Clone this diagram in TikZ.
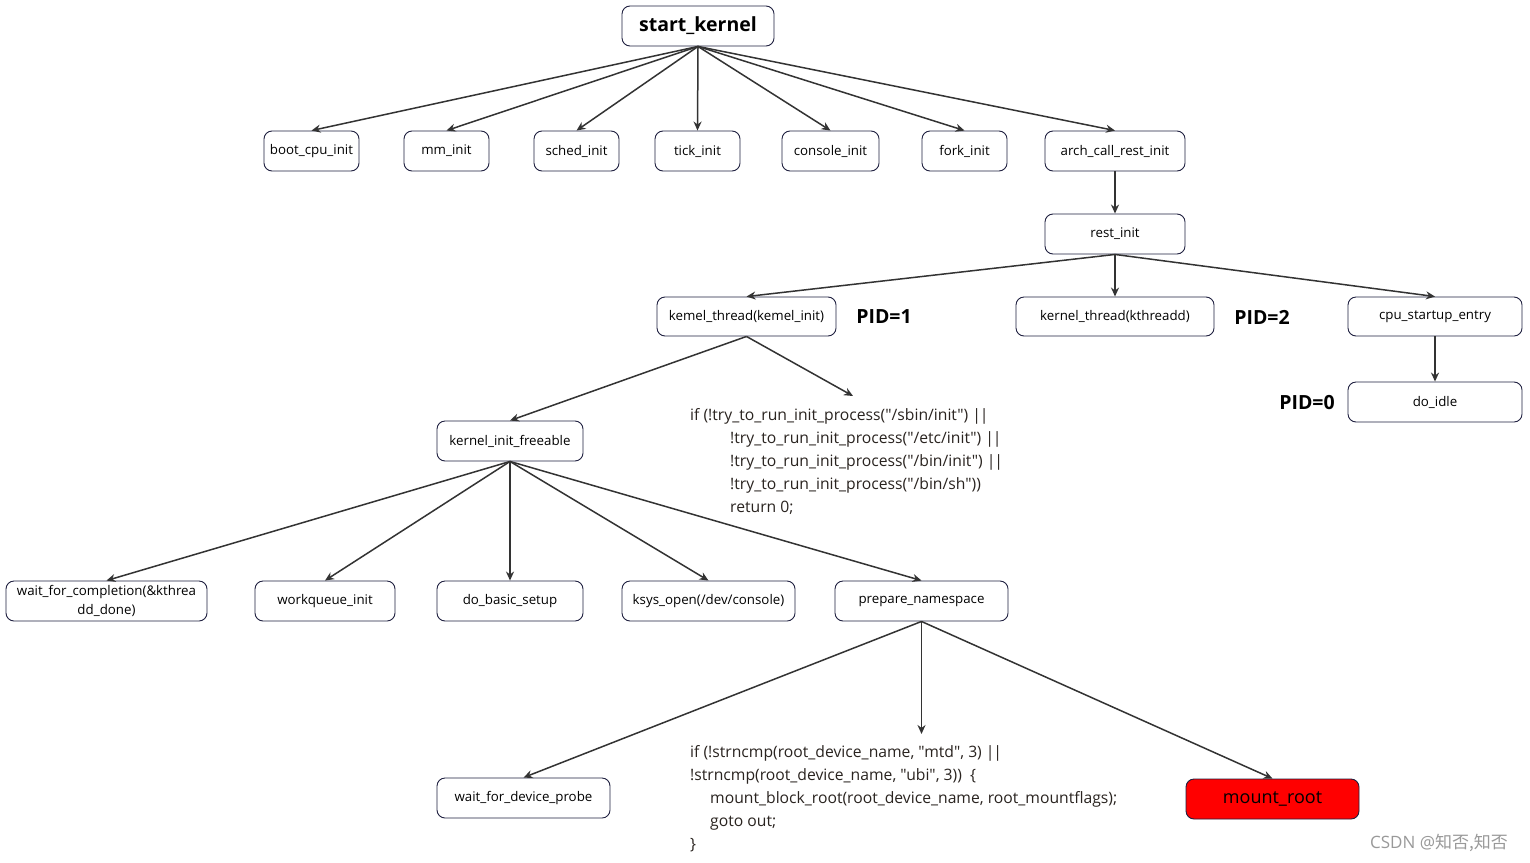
\documentclass[tikz,border=0pt]{standalone}
\usepackage{fontspec}
\setmainfont{Open Sans}[Ligatures=TeXOff]
\newfontfamily\cjkfont{Noto Sans CJK SC}
\usetikzlibrary{arrows.meta}
\definecolor{edgecol}{HTML}{333333}
\definecolor{boxline}{HTML}{1F2040}
\definecolor{codecol}{HTML}{2A2420}
\newcommand{\oror}{|\kern-1.2pt|}
\tikzset{
  fn/.style={draw=boxline, line width=0.9pt, rounded corners=8pt, fill=white,
    inner sep=0pt, align=center, text=black, font=\fontsize{13.3}{15}\selectfont},
  arr/.style={draw=edgecol, line width=1.5pt, -{Stealth[length=9pt,width=8pt]}},
  pid/.style={font=\fontsize{19.5}{22}\selectfont\bfseries, inner sep=0pt},
  codetext/.style={font=\fontsize{15.7}{23}\selectfont, text=codecol, align=left, inner sep=0pt}
}
\begin{document}
\begin{tikzpicture}[x=1pt,y=-1pt]
\useasboundingbox (0,0) rectangle (1530,862);
\fill[white] (0,0) rectangle (1530,862);

% top level
\node[fn, minimum width=152pt, minimum height=40pt, font=\fontsize{19.5}{22}\selectfont\bfseries] (sk) at (698,26) {start\_kernel};
\node[fn, minimum width=95pt, minimum height=40pt] (boot) at (311.5,151) {boot\_cpu\_init};
\node[fn, minimum width=85pt, minimum height=40pt] (mm) at (446.5,151) {mm\_init};
\node[fn, minimum width=85pt, minimum height=40pt] (sched) at (576.5,151) {sched\_init};
\node[fn, minimum width=85pt, minimum height=40pt] (tick) at (697.5,151) {tick\_init};
\node[fn, minimum width=97pt, minimum height=40pt] (console) at (830.5,151) {console\_init};
\node[fn, minimum width=85pt, minimum height=40pt] (fork) at (964.5,151) {fork\_init};
\node[fn, minimum width=140pt, minimum height=40pt] (arch) at (1115,151) {arch\_call\_rest\_init};
\node[fn, minimum width=140pt, minimum height=40pt] (rest) at (1115,234) {rest\_init};

\node[fn, minimum width=179pt, minimum height=39pt] (kinit) at (746.5,316.5) {kemel\_thread(kemel\_init)};
\node[pid] (pid1) at (884,317) {PID=1};
\node[fn, minimum width=198pt, minimum height=39pt] (kthd) at (1115,316.5) {kernel\_thread(kthreadd)};
\node[pid] (pid2) at (1262,317) {PID=2};
\node[fn, minimum width=174pt, minimum height=39pt] (cpu) at (1435,316.5) {cpu\_startup\_entry};
\node[fn, minimum width=174pt, minimum height=40pt] (idle) at (1435,402) {do\_idle};
\node[pid] (pid0) at (1307,403) {PID=0};

\coordinate (c1) at (853,396);
\node[codetext, anchor=north west] (code1) at (690,408) {if (!try\_to\_run\_init\_process("/sbin/init") \oror\\
\hspace*{40pt}!try\_to\_run\_init\_process("/etc/init") \oror\\
\hspace*{40pt}!try\_to\_run\_init\_process("/bin/init") \oror\\
\hspace*{40pt}!try\_to\_run\_init\_process("/bin/sh"))\\
\hspace*{40pt}return 0;};

\node[fn, minimum width=146pt, minimum height=40pt] (kif) at (510,441) {kernel\_init\_freeable};
\node[fn, minimum width=201pt, minimum height=40pt, font=\fontsize{13.3}{19}\selectfont] (wait) at (106.5,601) {wait\_for\_completion(\&kthrea\\dd\_done)};
\node[fn, minimum width=140pt, minimum height=40pt] (wq) at (325,601) {workqueue\_init};
\node[fn, minimum width=146pt, minimum height=40pt] (dbs) at (510,601) {do\_basic\_setup};
\node[fn, minimum width=173pt, minimum height=40pt] (ksys) at (708.5,601) {ksys\_open(/dev/console)};
\node[fn, minimum width=173pt, minimum height=40pt] (prep) at (921.5,601) {prepare\_namespace};

\node[fn, minimum width=173pt, minimum height=40pt] (wdp) at (523.5,798) {wait\_for\_device\_probe};
\node[fn, minimum width=173pt, minimum height=40pt, fill=red, font=\fontsize{18}{20}\selectfont] (mroot) at (1272.5,799) {mount\_root};
\coordinate (c2) at (921.5,734);
\node[codetext, anchor=north west] (code2) at (690,745) {if (!strncmp(root\_device\_name, "mtd", 3) \oror\\
!strncmp(root\_device\_name, "ubi", 3))~~\{\\
\hspace*{20pt}mount\_block\_root(root\_device\_name, root\_mountflags);\\
\hspace*{20pt}goto out;\\
\}};

\node[font=\fontsize{17}{20}\selectfont, text=black!40, inner sep=0pt] (wm) at (1439,843) {CSDN @\cjkfont 知否,知否};

% edges
\foreach \t in {boot,mm,sched,tick,console,fork,arch}
  \draw[arr] (sk.south) -- (\t.north);
\draw[arr] (arch.south) -- (rest.north);
\foreach \t in {kinit,kthd,cpu}
  \draw[arr] (rest.south) -- (\t.north);
\draw[arr] (cpu.south) -- (idle.north);
\draw[arr] (kinit.south) -- (c1);
\draw[arr] (kinit.south) -- (kif.north);
\foreach \t in {wait,wq,dbs,ksys,prep}
  \draw[arr] (kif.south) -- (\t.north);
\draw[arr] (prep.south) -- (wdp.north);
\draw[arr] (prep.south) -- (c2);
\draw[arr] (prep.south) -- (mroot.north);
\end{tikzpicture}
\end{document}
